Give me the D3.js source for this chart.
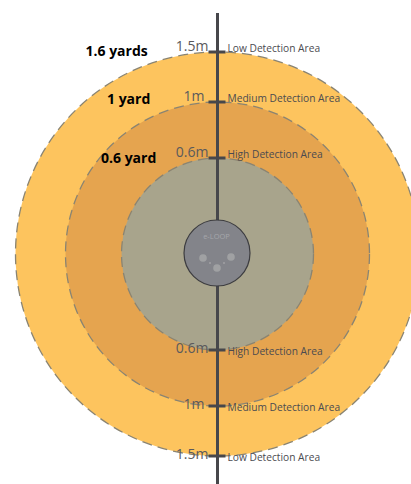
<!DOCTYPE html>
<html>
<head>
<meta charset="utf-8" />
<title>e-LOOP detection areas</title>
<script src="https://d3js.org/d3.v7.min.js"></script>
<style>
  html, body { margin: 0; padding: 0; background: #fff; }
  svg { display: block; }
  .tick-label { font-family: "Open Sans", sans-serif; fill: #5a5a5c; }
  .area-label { font-family: "Open Sans", sans-serif; fill: #4b4b50; }
  .yard-label { font-family: "Open Sans", sans-serif; font-weight: 700; fill: #000; }
</style>
</head>
<body>
<script>
// distance from the sensor, metres
var distances = [1.5, 1, 0.6];
var tickLabels = ['1.5m', '1m', '0.6m'];
var areaNames = ['Low Detection Area', 'Medium Detection Area', 'High Detection Area'];
var yardLabels = ['1.6 yards', '1 yard', '0.6 yard'];
var zoneColors = ['#fdc45e', '#e5a44f', '#a8a48c'];

var width = 411, height = 484;
var cx = 217.5, cy = 254;

// picture is not to true scale, so the radial scale has breaks at each ring
var radius = d3.scaleLinear().domain([0, 0.6, 1, 1.5]).range([0, 96, 152, 202]);

var svg = d3.select('body').append('svg')
    .attr('width', width)
    .attr('height', height);

var g = svg.append('g').attr('transform', 'translate(' + cx + ',' + cy + ')');

// zones, biggest first
g.selectAll('.zone')
    .data(distances)
    .enter()
    .append('circle')
    .attr('class', 'zone')
    .attr('r', function (d) { return radius(d); })
    .attr('fill', function (d, i) { return zoneColors[i]; })
    .attr('stroke', '#8a8472')
    .attr('stroke-width', 1.3)
    .attr('stroke-dasharray', '10 6');

// centre line
g.append('line')
    .attr('y1', 13 - cy)
    .attr('y2', height - cy)
    .attr('stroke', '#47474b')
    .attr('stroke-width', 3);

// tick marks above and below the sensor
var sides = [-1, 1];
sides.forEach(function (side) {
    g.selectAll('.tick' + side)
        .data(distances)
        .enter()
        .append('line')
        .attr('x1', -9)
        .attr('x2', 8)
        .attr('y1', function (d) { return side * radius(d); })
        .attr('y2', function (d) { return side * radius(d); })
        .attr('stroke', '#47474b')
        .attr('stroke-width', 3);

    g.selectAll('.metre' + side)
        .data(distances)
        .enter()
        .append('text')
        .attr('class', 'tick-label')
        .attr('x', function (d, i) { return i === 1 ? -13 : -9; })
        .attr('y', function (d) { return side * radius(d) + (side < 0 ? -1 : 3); })
        .attr('text-anchor', 'end')
        .attr('font-size', 14)
        .text(function (d, i) { return tickLabels[i]; });

    g.selectAll('.name' + side)
        .data(distances)
        .enter()
        .append('text')
        .attr('class', 'area-label')
        .attr('x', 10)
        .attr('y', function (d) { return side * radius(d) + (side < 0 ? 0 : 5); })
        .attr('font-size', 10.2)
        .text(function (d, i) { return areaNames[i]; });
});

// sensor hub
g.append('circle')
    .attr('cx', -0.5)
    .attr('cy', -1)
    .attr('r', 33)
    .attr('fill', '#83848a')
    .attr('stroke', '#3c3c40')
    .attr('stroke-width', 1.2);

g.append('text')
    .attr('x', -1)
    .attr('y', -15)
    .attr('text-anchor', 'middle')
    .attr('font-family', '"Open Sans", sans-serif')
    .attr('font-size', 7.5)
    .attr('fill', '#a5a6aa')
    .text('e-LOOP');

var hubDots = [[-14, 5, 3.8], [14, 4, 3.8], [0, 15, 3.8], [-7, 10, 1], [7, 10, 1]];
g.selectAll('.dot')
    .data(hubDots)
    .enter()
    .append('circle')
    .attr('cx', function (d) { return d[0] - 0.5; })
    .attr('cy', function (d) { return d[1] - 1; })
    .attr('r', function (d) { return d[2]; })
    .attr('fill', '#a0a1a3');

// yard labels sit to the left of the metre ticks
var yardX = [85.5, 107, 101];
var yardY = [56, 104, 163];
svg.selectAll('.yard-label')
    .data(yardLabels)
    .enter()
    .append('text')
    .attr('class', 'yard-label')
    .attr('x', function (d, i) { return yardX[i]; })
    .attr('y', function (d, i) { return yardY[i]; })
    .attr('font-size', 14)
    .text(function (d) { return d; });
</script>
</body>
</html>
